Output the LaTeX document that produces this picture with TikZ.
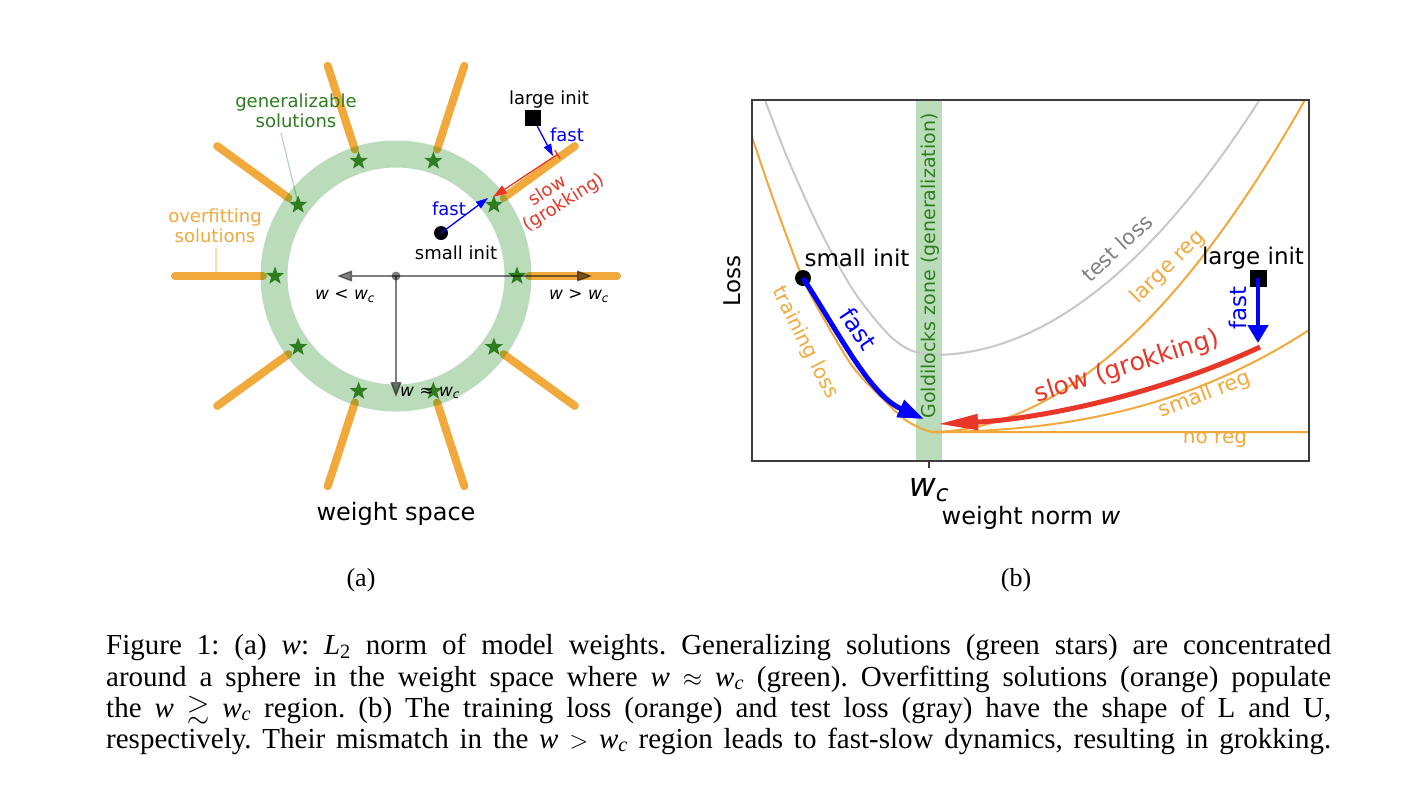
\documentclass[tikz,border=0pt]{standalone}
\usepackage{amsmath,amssymb}
\usepackage{fontspec}
\setmainfont{Liberation Serif}
\newfontfamily\dv{DejaVu Sans}
\usetikzlibrary{arrows.meta,calc,shapes.geometric}
\definecolor{orng}{RGB}{242,169,59}
\definecolor{dgreen}{RGB}{46,125,32}
\definecolor{gband}{RGB}{0,128,0}
\definecolor{slowred}{RGB}{232,55,40}
\definecolor{tgray}{RGB}{200,200,200}
\definecolor{lgray}{RGB}{128,128,128}
\definecolor{axgray}{RGB}{60,60,60}
\newcommand\capline[1]{\makebox[1225pt][s]{\frenchspacing\thickmuskip=5mu\medmuskip=4mu #1}}
\newcommand\mw{\textit{w}}
\newcommand\mwc{\textit{w}\textsubscript{\textit{c}}}
\begin{document}
\begin{tikzpicture}[x=1pt,y=-1pt,
  dvs/.style={font=\dv\fontsize{#1}{#1}\selectfont, inner sep=0pt},
  ovline/.style={orng, line width=8pt, line cap=round},
  starnode/.style={star, star points=5, star point ratio=2.4, fill=dgreen, draw=none, minimum size=19pt, inner sep=0pt},
  axarrow/.style={black, opacity=0.5, line width=1.3pt, -{Triangle[length=15pt,width=11pt]}},
  thinarrow/.style={line width=1.3pt, -{Triangle[length=12pt,width=8pt]}},
  curve/.style={line width=2pt},
  captext/.style={anchor=base west, inner sep=0pt, font=\fontsize{29}{32}\selectfont},
  lbl/.style={inner sep=0pt, font=\fontsize{26}{26}\selectfont}
]
\useasboundingbox (0,0) rectangle (1422,804);
\fill[white] (0,0) rectangle (1422,804);

% ---------------- panel (a) ----------------
\coordinate (O) at (396,276);
\foreach \a in {0,36,...,324}{
  \draw[ovline] ($(O)+(\a:133pt)$) -- ($(O)+(\a:221pt)$);
}
\draw[gband, opacity=0.27, line width=27pt] (O) circle[radius=122pt];

\node[dvs=18, text=dgreen, align=center] (gen) at (296,111) {generalizable\\[2pt]solutions};
\node[dvs=18, text=orng, align=center] (ovf) at (215,226) {overfitting\\[2pt]solutions};
\coordinate (genl) at (281,133);
\coordinate (genm) at (297,199);
\draw[gband, opacity=0.3, line width=1.2pt] (genl) -- (genm);
\coordinate (ovl1) at (216,248);
\coordinate (ovl2) at (216,272);
\draw[orng, opacity=0.4, line width=1.2pt] (ovl1) -- (ovl2);

\foreach \a [count=\i] in {0,36,...,324}{
  \node[starnode] (s\i) at ($(O)+(\a:121pt)$) {};
}

\coordinate (axL) at (337,276);
\coordinate (axR) at (592,276);
\coordinate (axD) at (396,397);
\draw[axarrow] (O) -- (axL);
\draw[axarrow] (O) -- (axR);
\draw[axarrow] (O) -- (axD);
\fill[black, opacity=0.5] (O) circle[radius=4.5pt];

\node[dvs=17] (lt) at (345,296) {{\itshape w} < {\itshape w}\textsubscript{\itshape c}};
\node[dvs=17] (gt) at (579,296) {{\itshape w} > {\itshape w}\textsubscript{\itshape c}};
\node[dvs=17] (ap) at (430,393) {{\itshape w} ≈ {\itshape w}\textsubscript{\itshape c}};

\node[fill=black, minimum size=16pt, inner sep=0pt] (lsq) at (533,118) {};
\node[dvs=18] (lit) at (549,100) {large init};
\coordinate (lfe) at (553,156);
\draw[blue, thinarrow] (lsq) -- (lfe);
\node[dvs=18, text=blue] (lf) at (567,135) {fast};

\coordinate (rs) at (558,154);
\coordinate (re) at (493,197);
\draw[slowred, line width=1.3pt, {Bar[width=10pt]}-{Triangle[length=14pt,width=9pt]}] (rs) -- (re);
\node[dvs=18, text=slowred, rotate=33] (sl1) at (547,190) {slow};
\node[dvs=18, text=slowred, rotate=32] (sl2) at (564,203) {(grokking)};

\node[circle, fill=black, minimum size=14pt, inner sep=0pt] (sdot) at (441,233) {};
\node[dvs=18] (sit) at (456,253) {small init};
\coordinate (sfe) at (488,198);
\draw[blue, thinarrow] (sdot.center) -- (sfe);
\node[dvs=18, text=blue] (sf) at (449,209) {fast};

\node[dvs=24] (ws) at (396,514) {weight space};
\node[lbl] (pa) at (361,580) {(a)};

% ---------------- panel (b) ----------------
\fill[gband, opacity=0.27] (916,100) rectangle (942,461);

% test loss
\draw[tgray, curve] plot[smooth] coordinates {(765,100) (787,157) (820,230) (853,290) (887,333) (910,350) (933,355)}
  -- plot[domain=933:1259, samples=50] (\x, {355-(0.0489*(\x-933))^2});
% training loss (no reg)
\draw[orng, curve] plot[smooth] coordinates {(752,137) (770,190) (787,237) (803,279) (820,312) (853,367) (887,403) (907,421) (930,431.5) (950,432)} -- (1309,432);
% small reg
\draw[orng, curve] (930,432) .. controls (1080,432) and (1199,401.5) .. (1309,330);
% large reg
\draw[orng, curve] plot[domain=930:1305, samples=50] (\x,{432-(0.0486*(\x-930))^2});

\draw[axgray, line width=1.5pt] (752,100) rectangle (1309,461);
\coordinate (tk1) at (929,461);
\coordinate (tk2) at (929,468);
\draw[axgray, line width=1.3pt] (tk1) -- (tk2);

% slow arrow
\coordinate (rs2) at (1260,347);
\coordinate (re2) at (938,424);
\draw[slowred, line width=5pt, -{Triangle[length=40pt,width=15pt]}] (rs2) .. controls (1160,394) and (1040,419) .. (re2);

% small init + fast
\node[circle, fill=black, minimum size=16pt, inner sep=0pt] (sdot2) at (803,278) {};
\coordinate (bfe) at (924,419);
\draw[blue, line width=5pt, -{Triangle[length=26pt,width=18pt]}] (sdot2.center) .. controls (840,335) and (870,395) .. (bfe);

% large init + fast
\node[fill=black, minimum size=17pt, inner sep=0pt] (lsq2) at (1258,278) {};
\coordinate (lfe2) at (1258,343);
\draw[blue, line width=4.5pt, -{Triangle[length=18pt,width=20pt]}] (lsq2.center) -- (lfe2);

% labels
\node[dvs=23] (sit2) at (857,258) {small init};
\node[dvs=23] (lit2) at (1253,258) {large init};
\node[dvs=20, text=orng, rotate=-63] (trl) at (805,343) {training loss};
\node[dvs=24, text=blue, rotate=-56] (fb1) at (859,329) {fast};
\node[dvs=19, text=dgreen, rotate=90] (gold) at (930,266) {Goldilocks zone (generalization)};
\node[dvs=21, text=lgray, rotate=43] (tl) at (1117,248) {test loss};
\node[dvs=21, text=orng, rotate=45] (lr) at (1168,267) {large reg};
\node[dvs=23, text=blue, rotate=90] (fb2) at (1238,308) {fast};
\node[dvs=25, text=slowred, rotate=17.5] (sg) at (1127,367) {slow (grokking)};
\node[dvs=21, text=orng, rotate=21] (sr) at (1205,395) {small reg};
\node[dvs=20, text=orng] (nr) at (1215,440) {no reg};
\node[dvs=23, rotate=90] (loss) at (732,281) {Loss};
\node[dvs=33] (wc) at (929,490) {{\itshape w}\textsubscript{\itshape c}};
\node[dvs=24] (wn) at (1031,518) {weight norm {\itshape w}};
\node[lbl] (pb) at (1016,580) {(b)};

% ---------------- caption ----------------
\node[captext] (c1) at (106,654) {\capline{Figure 1: (a) \mw: \textit{L}\textsubscript{2} norm of model weights. Generalizing solutions (green stars) are concentrated}};
\node[captext] (c2) at (106,686) {\capline{around a sphere in the weight space where \mw\ $\approx$ \mwc\ (green). Overfitting solutions (orange) populate}};
\node[captext] (c3) at (106,717) {\capline{the \mw\ $\gtrsim$ \mwc\ region. (b) The training loss (orange) and test loss (gray) have the shape of L and U,}};
\node[captext] (c4) at (106,748) {\capline{respectively. Their mismatch in the \mw\ $>$ \mwc\ region leads to fast-slow dynamics, resulting in grokking.}};
\end{tikzpicture}
\end{document}
